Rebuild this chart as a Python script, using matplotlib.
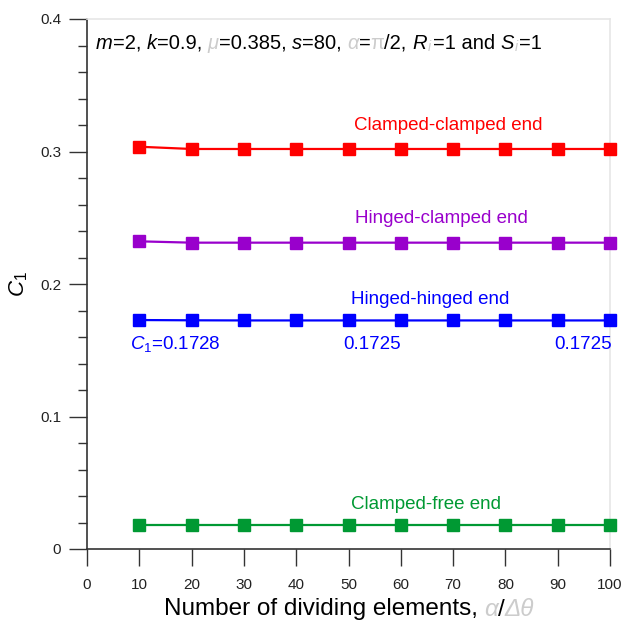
import matplotlib
matplotlib.use("Agg")
import matplotlib.pyplot as plt
from matplotlib.offsetbox import TextArea, HPacker, AnnotationBbox
from matplotlib.ticker import MultipleLocator

plt.rcParams['font.family'] = ['Liberation Sans', 'DejaVu Sans']
plt.rcParams['mathtext.fontset'] = 'custom'
plt.rcParams['mathtext.rm'] = 'Liberation Sans'
plt.rcParams['mathtext.it'] = 'Liberation Sans:italic'
plt.rcParams['mathtext.bf'] = 'Liberation Sans:bold'

elements = [10, 20, 30, 40, 50, 60, 70, 80, 90, 100]
clamped_clamped = [0.3036, 0.3019, 0.3019, 0.3019, 0.3019, 0.3019, 0.3019, 0.3019, 0.3019, 0.3019]
hinged_clamped = [0.2322, 0.2312, 0.2312, 0.2312, 0.2312, 0.2312, 0.2312, 0.2312, 0.2312, 0.2312]
hinged_hinged = [0.1728, 0.1726, 0.1725, 0.1725, 0.1725, 0.1725, 0.1725, 0.1725, 0.1725, 0.1725]
clamped_free = [0.0183, 0.0183, 0.0183, 0.0183, 0.0183, 0.0183, 0.0183, 0.0183, 0.0183, 0.0183]

series = [
    (clamped_clamped, '#ff0000', 'Clamped-clamped end', 69.0, 0.3195),
    (hinged_clamped, '#9900cc', 'Hinged-clamped end', 67.7, 0.2495),
    (hinged_hinged, '#0000ff', 'Hinged-hinged end', 65.6, 0.1880),
    (clamped_free, '#009933', 'Clamped-free end', 64.8, 0.0335),
]

fig = plt.figure(figsize=(6.24, 6.26), dpi=100)
L, R, B, T = 87, 610, 549, 19
ax = fig.add_axes([L/624, (626-B)/626, (R-L)/624, (B-T)/626])

lfs = 13.5
for vals, col, lab, lx, ly in series:
    ax.plot(elements, vals, color=col, lw=1.6, marker='s', markersize=9,
            markeredgecolor=col, clip_on=False, zorder=3)
    ax.text(lx, ly, lab, color=col, fontsize=lfs, ha='center', va='center')

ax.text(16.8, 0.1545, r'$C_1$=0.1728', color='#0000ff', fontsize=lfs, ha='center', va='center')
ax.text(54.5, 0.1545, '0.1725', color='#0000ff', fontsize=lfs, ha='center', va='center')
ax.text(94.8, 0.1545, '0.1725', color='#0000ff', fontsize=lfs, ha='center', va='center')

ax.set_xlim(0, 100)
ax.set_ylim(0, 0.4)
ax.set_xticks(range(0, 101, 10))
ax.set_yticks([0, 0.1, 0.2, 0.3, 0.4])
ax.set_yticklabels(['0', '0.1', '0.2', '0.3', '0.4'])
ax.yaxis.set_minor_locator(MultipleLocator(0.02))
ax.tick_params(axis='x', direction='out', length=12.2, width=1, colors='#333333', labelsize=11, pad=9, labelcolor='#222222')
ax.tick_params(axis='y', which='major', direction='out', length=13, width=1, colors='#333333', labelsize=11, pad=5.5, labelcolor='#222222')
ax.tick_params(axis='y', which='minor', direction='out', length=6.5, width=1, colors='#333333')
for s in ['left', 'bottom']:
    ax.spines[s].set_color('#333333')
    ax.spines[s].set_linewidth(1.2)
for s in ['top', 'right']:
    ax.spines[s].set_color('#e6e6e6')
    ax.spines[s].set_linewidth(1.2)

ax.set_ylabel(r'$C_1$', fontsize=16, va='center')
ax.yaxis.set_label_coords((19-L)/(R-L), 0.5)

grey = '#cccccc'
fs = 14.5
def ta(t, color='black', style='normal', size=fs):
    return TextArea(t, textprops=dict(color=color, fontsize=size, style=style, family=['Liberation Sans', 'DejaVu Sans']))

parts = [ta('m', style='italic'), ta('=2, '), ta('k', style='italic'), ta('=0.9, '),
         ta('μ', color=grey, style='italic'), ta('=0.385, '), ta('s', style='italic'), ta('=80, '),
         ta('α', color=grey, style='italic'), ta('='), ta('π', color=grey), ta('/2, '),
         ta('R', style='italic'), ta(r'${}_{i}$', color=grey), ta('=1 and '),
         ta('S', style='italic'), ta(r'${}_{i}$', color=grey), ta('=1')]
box = HPacker(children=parts, align='baseline', pad=0, sep=0)
ab = AnnotationBbox(box, (96/624, (626-44)/626), xycoords='figure fraction', box_alignment=(0, 0.5), frameon=False)
fig.add_artist(ab)

xs = 17.5
xparts = [ta('Number of dividing elements, ', size=xs), ta('α', color=grey, style='italic', size=xs),
          ta('/', size=xs), ta('Δθ', color=grey, style='italic', size=xs)]
xbox = HPacker(children=xparts, align='baseline', pad=0, sep=0)
ab2 = AnnotationBbox(xbox, (349/624, (626-609)/626), xycoords='figure fraction', box_alignment=(0.5, 0.5), frameon=False)
fig.add_artist(ab2)

fig.savefig('out.png', dpi=100)
